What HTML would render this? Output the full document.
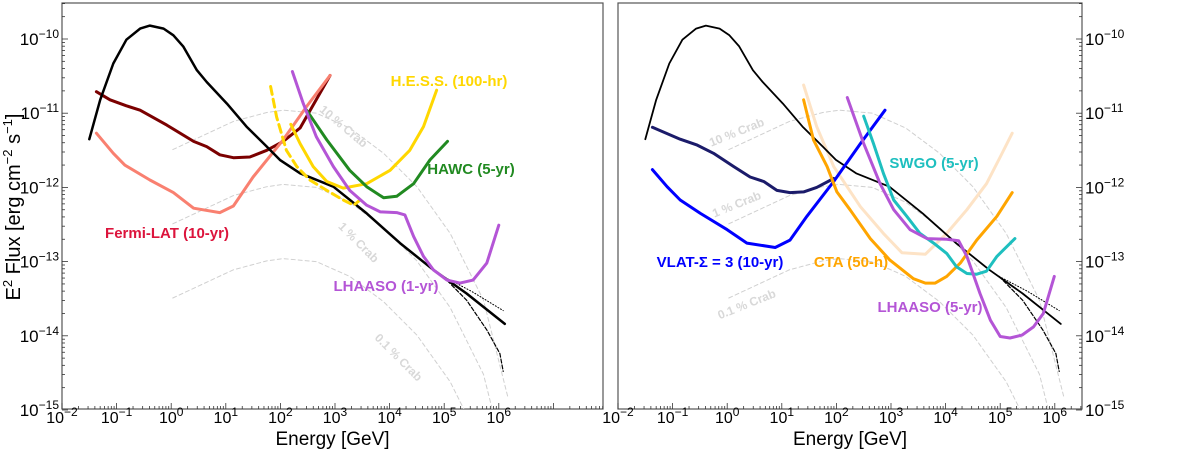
<!DOCTYPE html>
<html><head><meta charset="utf-8">
<style>
body{margin:0;background:#fff;overflow:hidden;}
svg{display:block;font-family:"Liberation Sans","DejaVu Sans",sans-serif;}
</style></head>
<body>
<svg id="c" width="1200" height="453" viewBox="0 0 1200 453"></svg>
<script>
// ---- data (log10 E [GeV], log10 E^2 flux [erg cm^-2 s^-1]) ----
const crabLogE=[-1.5,-1.30,-1.06,-0.82,-0.57,-0.39,-0.14,0.04,0.22,0.47,0.65,1.02,1.38,1.75,1.99,2.36,2.97,3.58,4.19,4.80,5.41,6.11];
const crabLogF=[-11.35,-10.82,-10.33,-10.01,-9.86,-9.82,-9.86,-9.95,-10.10,-10.42,-10.58,-10.87,-11.18,-11.45,-11.63,-11.81,-11.99,-12.35,-12.75,-13.11,-13.43,-13.84];
const crabDotLogE=[4.98,5.5,6.08];
const crabDotLogF=[-13.2,-13.40,-13.66];
const crabCutLogE=[4.98,5.41,5.78,6.02,6.08];
const crabCutLogF=[-13.2,-13.52,-13.92,-14.24,-14.48];
const refLogE=[0.03,0.53,1.14,1.75,2.05,2.66,3.27,3.89,4.50,5.11,5.72,6.17];
const refLogF=[-10.49,-10.32,-10.11,-9.99,-9.96,-10.00,-10.20,-10.54,-10.99,-11.62,-12.52,-13.84];
const crabFractions=[0.1,0.01,0.001];
const fermiLogE=[-1.37,-1.06,-0.85,-0.39,0.04,0.41,0.89,1.14,1.50,2.05,2.48,2.91];
const fermiLogF=[-11.27,-11.54,-11.70,-11.90,-12.07,-12.28,-12.34,-12.25,-11.86,-11.36,-10.91,-10.49];
const fermiDarkLogE=[-1.37,-1.12,-0.82,-0.57,-0.08,0.41,0.65,0.89,1.14,1.44,1.75,2.05,2.36,2.91];
const fermiDarkLogF=[-10.71,-10.82,-10.90,-10.96,-11.16,-11.38,-11.45,-11.56,-11.60,-11.59,-11.50,-11.38,-11.20,-10.49];
const hessLogE=[2.19,2.36,2.60,2.85,3.15,3.58,4.01,4.37,4.62,4.86];
const hessLogF=[-11.15,-11.41,-11.72,-11.92,-12.01,-11.95,-11.77,-11.50,-11.18,-10.69];
const hessDashLogE=[1.82,1.93,2.11,2.30,2.54,2.85,3.15,3.34,3.46];
const hessDashLogF=[-10.64,-11.05,-11.50,-11.72,-11.90,-12.04,-12.17,-12.24,-12.17];
const hawcLogE=[2.48,2.85,3.27,3.58,3.89,4.13,4.44,4.74,5.06];
const hawcLogF=[-10.96,-11.36,-11.77,-11.99,-12.14,-12.12,-11.95,-11.63,-11.38];
const lhaaso1LogE=[2.22,2.42,2.66,2.97,3.27,3.58,3.83,4.13,4.28,4.44,4.62,4.80,5.05,5.29,5.53,5.78,6.00];
const lhaaso1LogF=[-10.44,-10.87,-11.32,-11.72,-12.04,-12.24,-12.33,-12.34,-12.37,-12.66,-12.93,-13.11,-13.25,-13.29,-13.25,-13.02,-12.51];
const vlatDarkLogE=[-1.37,-0.86,-0.55,-0.25,0.12,0.42,0.67,0.91,1.15,1.40,1.64,1.95];
const vlatDarkLogF=[-11.19,-11.35,-11.43,-11.54,-11.72,-11.86,-11.92,-12.04,-12.07,-12.06,-12.00,-11.88];
const vlatLogE=[-1.37,-1.10,-0.86,-0.49,0.00,0.36,0.88,1.15,1.46,1.95,2.44,2.89];
const vlatLogF=[-11.76,-11.99,-12.17,-12.35,-12.57,-12.75,-12.81,-12.71,-12.39,-11.92,-11.41,-10.96];
const ctaLogE=[1.40,1.58,1.83,2.01,2.25,2.62,2.98,3.41,3.63,3.81,4.02,4.27,4.57,4.94,5.22];
const ctaLogF=[-10.82,-11.36,-11.72,-12.06,-12.30,-12.69,-12.98,-13.23,-13.29,-13.29,-13.20,-13.02,-12.71,-12.39,-12.07];
const ctaLightLogE=[1.40,1.64,1.95,2.44,2.86,3.20,3.63,4.02,4.39,4.75,5.00,5.22];
const ctaLightLogF=[-10.62,-11.18,-11.72,-12.26,-12.62,-12.88,-12.90,-12.62,-12.30,-11.95,-11.59,-11.27];
const swgoLogE=[2.50,2.68,2.86,3.05,3.29,3.53,3.78,4.02,4.20,4.39,4.57,4.75,4.94,5.27];
const swgoLogF=[-11.04,-11.41,-11.81,-12.17,-12.39,-12.62,-12.75,-12.89,-13.07,-13.16,-13.17,-13.13,-12.93,-12.69];
const lhaaso5LogE=[2.20,2.50,2.80,3.05,3.35,3.66,4.02,4.24,4.39,4.63,4.82,5.00,5.18,5.40,5.61,5.79,5.99];
const lhaaso5LogF=[-10.79,-11.41,-11.95,-12.30,-12.57,-12.69,-12.70,-12.72,-12.93,-13.43,-13.79,-14.01,-14.03,-13.99,-13.88,-13.70,-13.20];
const xTickExp=[-2,-1,0,1,2,3,4,5,6];
const yTickExp=[-10,-11,-12,-13,-14,-15];

const NS="http://www.w3.org/2000/svg";
const svg=document.getElementById('c');
function mk(t,a,p){const e=document.createElementNS(NS,t);for(const k in a)e.setAttribute(k,a[k]);(p||svg).appendChild(e);return e;}
const dec=54.6, ydec=74.2, y0=39;
function panel(left,right,tickSide,name){
  const g=mk('g',{});
  
  
  const P={g,left,right,
    x:v=>left+(v+2)*dec,
    y:v=>y0+(-10-v)*ydec};
  mk('rect',{x:left,y:3,width:right-left,height:406,fill:'none',stroke:'#555','stroke-width':1.2},g);
  const cp=mk('clipPath',{id:'cp'+name},g);
  mk('rect',{x:left,y:3,width:right-left,height:406},cp);
  P.plot=mk('g',{'clip-path':'url(#cp'+name+')'},g);
  for(let d=-2;d<8;d++){for(let m=1;m<10;m++){const xv=P.x(d+Math.log10(m));if(xv>right)break;
    mk('line',{x1:xv,x2:xv,y1:409,y2:m==1?403:406,stroke:'#333','stroke-width':0.8},g);}}
  xTickExp.forEach(e=>{const t=mk('text',{x:P.x(e),y:423,'font-size':16,'text-anchor':'middle',fill:'#000'},g);
    
    t.innerHTML='10<tspan dy="-7" font-size="12">'+(e<0?'\u2212'+(-e):e)+'</tspan>';});
  const tx=tickSide=='left'?left:right, dir=tickSide=='left'?1:-1;
  for(let d=-15;d<-9;d++){for(let m=1;m<10;m++){const yv=P.y(d+Math.log10(m));if(yv<3)break;
    mk('line',{x1:tx,x2:tx+dir*(m==1?6:3),y1:yv,y2:yv,stroke:'#333','stroke-width':0.8},g);}}
  yTickExp.forEach(e=>{const t=mk('text',{x:tickSide=='left'?left-3:right+3,y:P.y(e)+6,'font-size':17,'text-anchor':tickSide=='left'?'end':'start',fill:'#000'},g);
    
    t.innerHTML='10<tspan dy="-7" font-size="12">\u2212'+(-e)+'</tspan>';});
  const xl=mk('text',{x:(left+right)/2,y:445,'font-size':19,'text-anchor':'middle'},g);
  xl.textContent='Energy [GeV]';
  
  return P;
}
function line(P,xs,ys,color,w,name,dash){
  const d=xs.map((v,i)=>(i?'L':'M')+P.x(v).toFixed(1)+','+P.y(ys[i]).toFixed(1)).join('');
  const p=mk('path',{d,fill:'none',stroke:color,'stroke-width':w,'stroke-linejoin':'round','stroke-linecap':'round'},P.plot);
  if(dash)p.setAttribute('stroke-dasharray',dash);
  
  
}
function label(P,txt,cx,cy,color,name,rot,size){
  const t=mk('text',{x:cx,y:cy,'font-size':size||15,'font-weight':'bold',fill:color,'text-anchor':'middle','dominant-baseline':'middle'},P.g);
  if(rot)t.setAttribute('transform','rotate('+rot+' '+cx+' '+cy+')');
  t.textContent=txt;
  
  
}
function crabRefs(P){
  crabFractions.forEach(f=>{
    line(P,refLogE,refLogF.map(v=>v+Math.log10(f)),'#d0d0d0',1,'crab-fraction-curve','4,3');
  });
}
function crab(P,w){
  line(P,crabLogE,crabLogF,'#000',w,'crab-spectrum');
  line(P,crabDotLogE,crabDotLogF,'#000',1,'crab-spectrum-extrapolation','1,2');
  line(P,crabCutLogE,crabCutLogF,'#000',1.2,'crab-spectrum-cutoff','4,2');
}
const L=panel(62,603,'left','left-panel');
crabRefs(L);
line(L,fermiDarkLogE,fermiDarkLogF,'#7b0000',3,'fermi-lat-dark-curve');
line(L,fermiLogE,fermiLogF,'#f98070',3,'fermi-lat-curve');
crab(L,2.5);
line(L,hessDashLogE,hessDashLogF,'#ffd700',3,'hess-dashed-curve','8,5');
line(L,hessLogE,hessLogF,'#ffd700',3,'hess-curve');
line(L,hawcLogE,hawcLogF,'#218a21',3,'hawc-curve');
line(L,lhaaso1LogE,lhaaso1LogF,'#b455d6',3,'lhaaso-1yr-curve');
label(L,'10 % Crab',343,127,'#d8d8d8','crab-10-label',40,12);
label(L,'1 % Crab',358,243,'#d8d8d8','crab-1-label',45,12);
label(L,'0.1 % Crab',398,358,'#d8d8d8','crab-0.1-label',45,12);
label(L,'H.E.S.S. (100-hr)',449,82,'#ffd700','hess-label');
label(L,'HAWC (5-yr)',471,170,'#218a21','hawc-label');
label(L,'Fermi-LAT (10-yr)',167,234,'#dc143c','fermi-lat-label');
label(L,'LHAASO (1-yr)',386,287,'#b455d6','lhaaso-1yr-label');
const yl=mk('text',{x:0,y:0,'font-size':20,'text-anchor':'middle',transform:'translate(20,207) rotate(-90)'});
yl.innerHTML='E<tspan dy="-8" font-size="13">2</tspan><tspan dy="8"> Flux [erg cm</tspan><tspan dy="-8" font-size="13">\u22122</tspan><tspan dy="8"> s</tspan><tspan dy="-8" font-size="13">\u22121</tspan><tspan dy="8">]</tspan>';

const R=panel(618,1082,'right','right-panel');
crabRefs(R);
line(R,ctaLightLogE,ctaLightLogF,'#fde3c6',3,'cta-light-curve');
crab(R,1.8);
line(R,vlatDarkLogE,vlatDarkLogF,'#1b1b6a',3,'vlat-dark-curve');
line(R,vlatLogE,vlatLogF,'#0000ff',3,'vlat-curve');
line(R,ctaLogE,ctaLogF,'#ffa500',3,'cta-curve');
line(R,swgoLogE,swgoLogF,'#1ebfbf',3,'swgo-curve');
line(R,lhaaso5LogE,lhaaso5LogF,'#b455d6',3,'lhaaso-5yr-curve');
label(R,'10 % Crab',737,133,'#d8d8d8','crab-10-label',-22,12);
label(R,'1 % Crab',737,205,'#d8d8d8','crab-1-label',-22,12);
label(R,'0.1 % Crab',747,305,'#d8d8d8','crab-0.1-label',-22,12);
label(R,'SWGO (5-yr)',934,164,'#1ebfbf','swgo-label');
label(R,'VLAT-\u03A3 = 3 (10-yr)',720,263,'#0000ff','vlat-label');
label(R,'CTA (50-h)',851,263,'#ffa500','cta-label');
label(R,'LHAASO (5-yr)',930,308,'#b455d6','lhaaso-5yr-label');
</script>
</body></html>
